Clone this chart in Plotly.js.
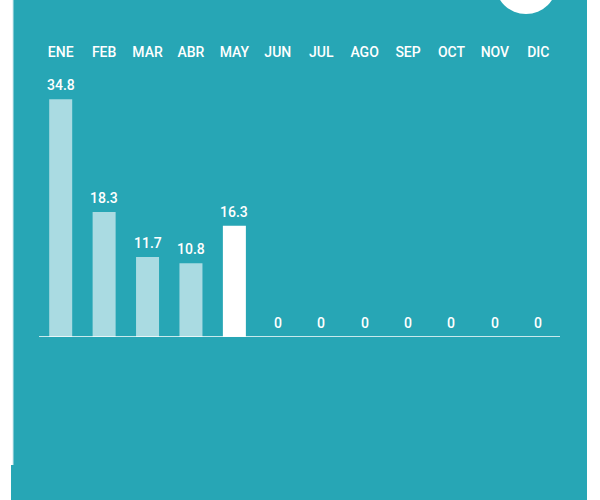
<!DOCTYPE html>
<html>
<head>
<meta charset="utf-8">
<script src="https://cdn.plot.ly/plotly-3.0.1.min.js"></script>
<style>html,body{margin:0;padding:0;background:#fff;}#chart{width:600px;height:500px;}</style>
</head>
<body>
<div id="chart"></div>
<script>
const months = ['ENE','FEB','MAR','ABR','MAY','JUN','JUL','AGO','SEP','OCT','NOV','DIC'];
const values = [34.8, 18.3, 11.7, 10.8, 16.3, 0, 0, 0, 0, 0, 0, 0];
const currentMonth = 'MAY';

const teal = '#27a6b5';
const light = '#aadbe2';
const barColors = months.map(m => m === currentMonth ? '#ffffff' : light);

const L = 39, R = 560, T = 70, B = 337, W = 600, H = 500;
const px2x = X => (X - L) / (R - L);
const px2y = Y => (B - Y) / (B - T);

const trace = {
  type: 'bar',
  x: months,
  y: values,
  marker: {color: barColors, line: {width: 0}},
  hoverinfo: 'none'
};

const annotations = months.map((m, i) => ({
  x: m, y: values[i], xref: 'x', yref: 'y',
  text: String(values[i]),
  showarrow: false, yanchor: 'bottom', yshift: 4,
  font: {family: 'Roboto', size: 14, color: '#ffffff', weight: 500}
}));

const layout = {
  width: W, height: H,
  margin: {l: L, r: W - R, t: T, b: H - B, pad: 0},
  paper_bgcolor: teal,
  plot_bgcolor: teal,
  showlegend: false,
  bargap: 0.47,
  xaxis: {
    type: 'category', side: 'top', range: [-0.5, 11.5],
    showline: false, showgrid: false, zeroline: false, ticks: '',
    tickfont: {family: 'Roboto', size: 14, color: '#ffffff', weight: 500},
    ticklabelstandoff: 9
  },
  yaxis: {
    range: [0, (B - T) / 6.83], showgrid: false, zeroline: false,
    showticklabels: false, showline: false, ticks: ''
  },
  annotations: annotations,
  shapes: [
    {type: 'line', xref: 'paper', yref: 'y', x0: 0, x1: 1, y0: 0, y1: 0,
     line: {color: '#ffffff', width: 1.5}, layer: 'above'},
    {type: 'rect', xref: 'paper', yref: 'paper', x0: px2x(0), x1: px2x(13), y0: px2y(465), y1: px2y(0),
     fillcolor: '#ffffff', line: {width: 0}},
    {type: 'rect', xref: 'paper', yref: 'paper', x0: px2x(0), x1: px2x(11), y0: px2y(500), y1: px2y(465),
     fillcolor: '#ffffff', line: {width: 0}},
    {type: 'line', xref: 'paper', yref: 'paper', x0: px2x(13), x1: px2x(13), y0: px2y(465), y1: px2y(0),
     line: {color: '#cde9ee', width: 1}},
    {type: 'rect', xref: 'paper', yref: 'paper', x0: px2x(587), x1: px2x(600), y0: px2y(500), y1: px2y(0),
     fillcolor: '#ffffff', line: {width: 0}},
    {type: 'circle', xref: 'paper', yref: 'paper', x0: px2x(495), x1: px2x(557), y0: px2y(14), y1: px2y(-48),
     fillcolor: '#ffffff', line: {width: 0}}
  ]
};

Plotly.newPlot('chart', [trace], layout, {displayModeBar: false, staticPlot: true});
</script>
</body>
</html>
